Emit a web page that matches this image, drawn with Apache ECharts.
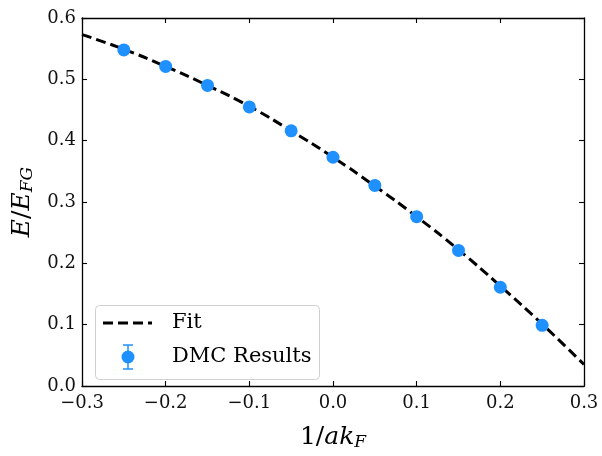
<!DOCTYPE html>
<html>
<head>
<meta charset="utf-8">
<script src="https://cdn.jsdelivr.net/npm/echarts@6/dist/echarts.min.js"></script>
<style>html,body{margin:0;padding:0;background:#fff}#c{width:602px;height:456px}</style>
</head>
<body>
<div id="c"></div>
<script>
// Data
const dmcX = [-0.25, -0.2, -0.15, -0.1, -0.05, 0.0, 0.05, 0.1, 0.15, 0.2, 0.25];
const dmcY = [0.548, 0.521, 0.490, 0.455, 0.416, 0.373, 0.327, 0.276, 0.221, 0.161, 0.099];
const fitX = [-0.3, -0.25, -0.2, -0.15, -0.1, -0.05, 0.0, 0.05, 0.1, 0.15, 0.2, 0.25, 0.3];
const fitY = [0.573, 0.549, 0.521, 0.490, 0.456, 0.416, 0.373, 0.326, 0.276, 0.222, 0.163, 0.101, 0.035];
const xTicks = [-0.3, -0.2, -0.1, 0.0, 0.1, 0.2, 0.3];
const yTicks = [0.0, 0.1, 0.2, 0.3, 0.4, 0.5, 0.6];
const seriesNames = ['Fit', 'DMC Results'];

const FONT = 'DejaVu Serif';
const fmt = v => { const s = (Math.round(v * 10) / 10).toFixed(1); return s.startsWith('-') ? '\u2212' + s.slice(1) : s; };

const chart = echarts.init(document.getElementById('c'), null, {renderer: 'canvas'});
const axisCommon = {
  type: 'value',
  axisLine: {show: true, onZero: false, lineStyle: {color: '#000', width: 1.3}},
  axisTick: {show: true, inside: true, length: 5, lineStyle: {color: '#000', width: 1.1}},
  splitLine: {show: false}
};
const mathRich = {
  n: {fontFamily: FONT, fontSize: 25, color: '#000'},
  i: {fontFamily: FONT, fontStyle: 'italic', fontSize: 25, color: '#000'},
  s: {fontFamily: FONT, fontStyle: 'italic', fontSize: 17, color: '#000', padding: [10, 0, 0, 0]}
};
chart.setOption({
  animation: false,
  grid: {left: 82, right: 18, top: 18, bottom: 64},
  xAxis: [
    Object.assign({}, axisCommon, {
      min: xTicks[0], max: xTicks[xTicks.length - 1], interval: 0.1,
      axisLabel: {fontFamily: FONT, fontSize: 18, color: '#111', margin: 8, formatter: fmt},
      name: '{n|1/}{i|ak}{s|F}', nameLocation: 'middle', nameGap: 38,
      nameTextStyle: {rich: mathRich}
    }),
    Object.assign({}, axisCommon, {
      position: 'top', min: xTicks[0], max: xTicks[xTicks.length - 1], interval: 0.1,
      axisLabel: {show: false}
    })
  ],
  yAxis: [
    Object.assign({}, axisCommon, {
      min: yTicks[0], max: yTicks[yTicks.length - 1], interval: 0.1,
      axisLabel: {fontFamily: FONT, fontSize: 18, color: '#111', margin: 6, formatter: fmt},
      name: '{i|E}{n|/}{i|E}{s|FG}', nameLocation: 'middle', nameGap: 44, nameRotate: 90,
      nameTextStyle: {rich: mathRich}
    }),
    Object.assign({}, axisCommon, {
      position: 'right', min: yTicks[0], max: yTicks[yTicks.length - 1], interval: 0.1,
      axisLabel: {show: false}
    })
  ],
  series: [
    {
      name: seriesNames[0], type: 'line', smooth: true, symbol: 'none',
      data: fitX.map((x, i) => [x, fitY[i]]),
      lineStyle: {color: '#000', width: 3, type: [10, 5]}, z: 3
    },
    {
      name: seriesNames[1], type: 'scatter', symbol: 'circle', symbolSize: 13,
      data: dmcX.map((x, i) => [x, dmcY[i]]),
      itemStyle: {color: '#1E90FF', opacity: 1}, z: 4
    }
  ],
  graphic: [
    {type: 'rect', shape: {x: 95.5, y: 305.5, width: 224, height: 74, r: 4},
     style: {fill: 'rgba(255,255,255,0.8)', stroke: '#d0d0d0', lineWidth: 1}, z: 10},
    {type: 'line', shape: {x1: 103, y1: 323, x2: 152, y2: 323},
     style: {stroke: '#000', lineWidth: 3, lineDash: [10, 5]}, z: 11},
    {type: 'text', x: 172, y: 323, style: {text: seriesNames[0], fontFamily: FONT, fontSize: 21, fill: '#000', verticalAlign: 'middle'}, z: 11},
    {type: 'line', shape: {x1: 128, y1: 345, x2: 128, y2: 369}, style: {stroke: '#1E90FF', lineWidth: 1.5}, z: 11},
    {type: 'line', shape: {x1: 123, y1: 345, x2: 133, y2: 345}, style: {stroke: '#1E90FF', lineWidth: 1.5}, z: 11},
    {type: 'line', shape: {x1: 123, y1: 369, x2: 133, y2: 369}, style: {stroke: '#1E90FF', lineWidth: 1.5}, z: 11},
    {type: 'circle', shape: {cx: 128, cy: 357, r: 6.5}, style: {fill: '#1E90FF'}, z: 11},
    {type: 'text', x: 172, y: 357, style: {text: seriesNames[1], fontFamily: FONT, fontSize: 21, fill: '#000', verticalAlign: 'middle'}, z: 11}
  ]
});
</script>
</body>
</html>
